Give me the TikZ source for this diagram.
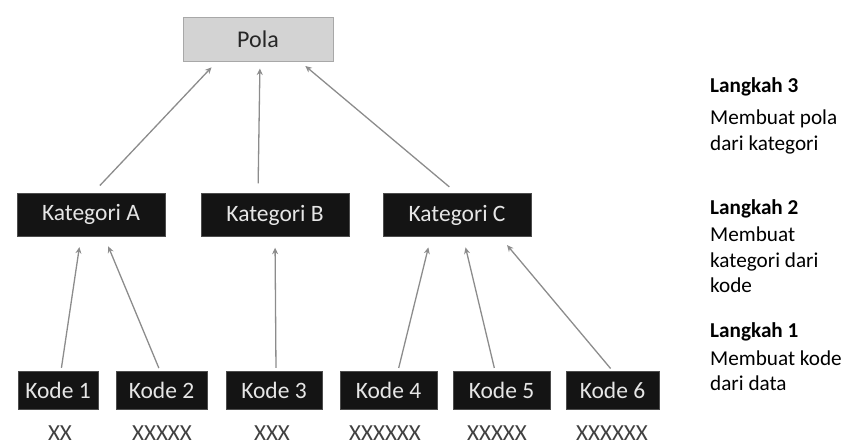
\documentclass[tikz,border=0pt]{standalone}
\usepackage{fontspec}
\setmainfont{Carlito}
\usetikzlibrary{arrows.meta}
\definecolor{boxdark}{HTML}{141414}
\definecolor{boxtext}{HTML}{E6E6E6}
\definecolor{polafill}{HTML}{D3D3D3}
\definecolor{polaedge}{HTML}{A8A8A8}
\definecolor{arrowgray}{HTML}{8C8C8C}
\definecolor{labelgray}{HTML}{404040}
\begin{document}
\begin{tikzpicture}[x=1pt,y=-1pt,
  darkbox/.style={draw=black!70,fill=boxdark,text=boxtext,inner sep=0pt,
    minimum height=#1,font=\fontsize{23.5}{26}\selectfont},
  polabox/.style={draw=polaedge,line width=1pt,fill=polafill,text=black!85,inner sep=0pt,
    minimum width=150,minimum height=44,font=\fontsize{24}{26}\selectfont},
  datalabel/.style={text=labelgray,inner sep=0pt,font=\fontsize{23}{26}\selectfont},
  steptitle/.style={anchor=base west,inner sep=0pt,font=\fontsize{21.2}{24}\selectfont\bfseries},
  steptext/.style={anchor=base west,inner sep=0pt,font=\fontsize{21.2}{24}\selectfont},
  arr/.style={draw=arrowgray,line width=1.3pt,-{Stealth[length=6.5pt,width=6pt]}}]
\useasboundingbox (0,0) rectangle (850,445);

% top level
\node[polabox] (pola) at (258,39) {Pola};

% categories
\node[darkbox=43,minimum width=148] (katA) at (91,214.5) {Kategori A};
\node[darkbox=43,minimum width=148] (katB) at (275,215) {Kategori B};
\node[darkbox=43,minimum width=148] (katC) at (457,215) {Kategori C};

% codes
\node[darkbox=38,minimum width=80] (kode1) at (58,390) {Kode 1};
\node[darkbox=38,minimum width=91] (kode2) at (161.5,390) {Kode 2};
\node[darkbox=38,minimum width=96] (kode3) at (274,390) {Kode 3};
\node[darkbox=38,minimum width=97] (kode4) at (388.5,390) {Kode 4};
\node[darkbox=38,minimum width=97] (kode5) at (501.5,390) {Kode 5};
\node[darkbox=38,minimum width=93] (kode6) at (612.5,390) {Kode 6};

% data under each code
\node[datalabel] (d1) at (60,433) {XX};
\node[datalabel] (d2) at (162,433) {XXXXX};
\node[datalabel] (d3) at (272,433) {XXX};
\node[datalabel] (d4) at (385,433) {XXXXXX};
\node[datalabel] (d5) at (497,433) {XXXXX};
\node[datalabel] (d6) at (612,433) {XXXXXX};

% codes -> categories
\draw[arr,shorten <=3pt,shorten >=11pt] ([xshift=3]kode1.north) -- ([xshift=-10]katA.south);
\draw[arr,shorten <=3pt,shorten >=11pt] ([xshift=-1.5]kode2.north) -- ([xshift=13]katA.south);
\draw[arr,shorten <=3pt,shorten >=11pt] ([xshift=2]kode3.north) -- ([xshift=0]katB.south);
\draw[arr,shorten <=3pt,shorten >=11pt] ([xshift=9.5]kode4.north) -- ([xshift=-26]katC.south);
\draw[arr,shorten <=3pt,shorten >=11pt] ([xshift=-6.5]kode5.north) -- ([xshift=6]katC.south);
\draw[arr,shorten <=3pt,shorten >=11pt] ([xshift=0]kode6.north) -- ([xshift=43]katC.south);

% categories -> pattern
\draw[arr,shorten <=10pt,shorten >=8pt] ([xshift=2]katA.north) -- ([xshift=-41]pola.south);
\draw[arr,shorten <=10pt,shorten >=7pt] ([xshift=-17]katB.north) -- ([xshift=2]pola.south);
\draw[arr,shorten <=10pt,shorten >=7pt] ([xshift=0]katC.north) -- ([xshift=42]pola.south);

% step descriptions
\node[steptitle] (s3) at (710,92) {Langkah 3};
\node[steptext] (s3a) at (710,124) {Membuat pola};
\node[steptext] (s3b) at (710,150) {dari kategori};
\node[steptitle] (s2) at (710,214) {Langkah 2};
\node[steptext] (s2a) at (710,241) {Membuat};
\node[steptext] (s2b) at (710,267) {kategori dari};
\node[steptext] (s2c) at (710,292) {kode};
\node[steptitle] (s1) at (710,337) {Langkah 1};
\node[steptext] (s1a) at (710,365) {Membuat kode};
\node[steptext] (s1b) at (710,390) {dari data};
\end{tikzpicture}
\end{document}
